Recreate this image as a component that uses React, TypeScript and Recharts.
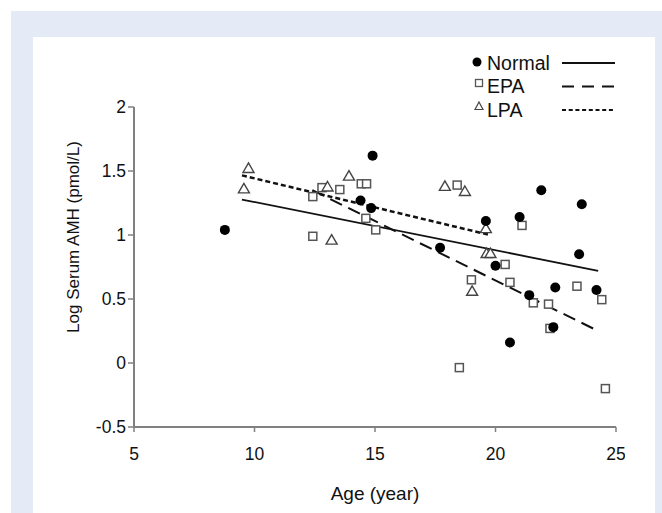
import { ScatterChart, Scatter, XAxis, YAxis } from 'recharts'

const normalPts = [
  { x: 8.77, y: 1.04 }, { x: 14.9, y: 1.62 }, { x: 14.4, y: 1.27 }, { x: 14.84, y: 1.21 },
  { x: 21.9, y: 1.35 }, { x: 23.58, y: 1.24 }, { x: 19.6, y: 1.11 }, { x: 21.0, y: 1.14 },
  { x: 17.7, y: 0.9 }, { x: 20.0, y: 0.76 }, { x: 23.47, y: 0.85 }, { x: 21.4, y: 0.53 },
  { x: 22.48, y: 0.59 }, { x: 24.19, y: 0.57 }, { x: 22.4, y: 0.28 }, { x: 20.6, y: 0.16 },
]

const epaPts = [
  { x: 12.42, y: 1.3 }, { x: 12.8, y: 1.37 }, { x: 13.54, y: 1.355 }, { x: 14.43, y: 1.4 },
  { x: 14.65, y: 1.4 }, { x: 14.62, y: 1.13 }, { x: 15.03, y: 1.04 }, { x: 12.42, y: 0.99 },
  { x: 18.41, y: 1.39 }, { x: 21.1, y: 1.075 }, { x: 20.4, y: 0.77 }, { x: 19.0, y: 0.65 },
  { x: 20.6, y: 0.63 }, { x: 21.57, y: 0.47 }, { x: 22.2, y: 0.46 }, { x: 23.38, y: 0.6 },
  { x: 24.41, y: 0.495 }, { x: 22.26, y: 0.27 }, { x: 18.5, y: -0.036 }, { x: 24.56, y: -0.2 },
]

const lpaPts = [
  { x: 9.75, y: 1.52 }, { x: 9.56, y: 1.36 }, { x: 13.03, y: 1.375 }, { x: 13.92, y: 1.46 },
  { x: 13.2, y: 0.96 }, { x: 17.9, y: 1.38 }, { x: 18.73, y: 1.34 }, { x: 19.6, y: 1.05 },
  { x: 19.63, y: 0.855 }, { x: 19.79, y: 0.855 }, { x: 19.03, y: 0.56 },
]

// regression line end points
const normalFit = [{ x: 9.48, y: 1.277 }, { x: 24.26, y: 0.72 }]
const epaFit = [{ x: 12.4, y: 1.35 }, { x: 24.26, y: 0.25 }]
const lpaFit = [{ x: 9.48, y: 1.466 }, { x: 19.76, y: 1.0 }]

const xTicks = [5, 10, 15, 20, 25]
const yTicks = [-0.5, 0, 0.5, 1, 1.5, 2]

const font = '"Liberation Sans", Arial, sans-serif'
const axisGrey = '#808080'

const Dot = (p: any) => <circle cx={p.cx} cy={p.cy} r={5} fill="#000" />
const Square = (p: any) => (
  <rect x={p.cx - 4} y={p.cy - 4} width={8} height={8} fill="#fff" stroke="#555" strokeWidth={1.5} />
)
const Triangle = (p: any) => (
  <path d={`M${p.cx},${p.cy - 5.5} L${p.cx + 5.5},${p.cy + 4} L${p.cx - 5.5},${p.cy + 4} Z`}
    fill="#fff" stroke="#444" strokeWidth={1.4} />
)
const NoShape = () => <g />

const legendRows = [
  { name: 'Normal', dash: undefined, width: 2 },
  { name: 'EPA', dash: '12 8', width: 2 },
  { name: 'LPA', dash: '4 2.7', width: 2.2 },
]

const LegendBox = () => (
  <svg width={170} height={75} style={{ fontFamily: font, display: 'block' }}>
    {legendRows.map((r, i) => {
      const y = 13 + i * 23.5
      return (
        <g key={r.name}>
          {i === 0 && <circle cx={17} cy={y - 1} r={4.5} fill="#000" />}
          {i === 1 && <rect x={15.5} y={y - 7} width={7} height={7} fill="#fff" stroke="#555" strokeWidth={1.3} />}
          {i === 2 && <path d={`M19,${y - 8} L23,${y - 0.5} L15,${y - 0.5} Z`} fill="#fff" stroke="#444" strokeWidth={1.2} />}
          <text x={27} y={y} dy="0.35em" fontSize={19.5} fill="#111">{r.name}</text>
          <line x1={102} x2={155} y1={y} y2={y} stroke="#111" strokeWidth={r.width} strokeDasharray={r.dash} />
        </g>
      )
    })}
  </svg>
)

export default function App() {
  return (
    <div style={{ position: 'absolute', left: 0, top: 0, width: 662, height: 513, background: '#fff', overflow: 'hidden' }}>
      <div style={{ position: 'absolute', left: 11, top: 11, width: 651, height: 502, background: '#e4ebf6' }} />
      <div style={{ position: 'absolute', left: 33, top: 37, width: 622, height: 476, background: '#fff' }} />
      <div style={{ position: 'absolute', left: 0, top: 0 }}>
        <ScatterChart width={662} height={513} margin={{ top: 107, right: 46, bottom: 11, left: 74 }}>
          <XAxis type="number" dataKey="x" domain={[5, 25]} ticks={xTicks} allowDataOverflow
            stroke={axisGrey} axisLine={{ stroke: axisGrey, strokeWidth: 2 }} tickLine={{ stroke: axisGrey, strokeWidth: 1.5 }}
            tickSize={5} tickMargin={16} height={75}
            tick={{ fill: '#111', fontSize: 17.5, fontFamily: font }}
            label={{ value: 'Age (year)', position: 'insideBottom', offset: 2, fill: '#111', fontSize: 19, fontFamily: font }} />
          <YAxis type="number" dataKey="y" domain={[-0.5, 2]} ticks={yTicks} allowDataOverflow
            stroke={axisGrey} axisLine={{ stroke: axisGrey, strokeWidth: 2 }} tickLine={{ stroke: axisGrey, strokeWidth: 1.5 }}
            tickSize={6} tickMargin={2} width={60}
            tick={{ fill: '#111', fontSize: 17.5, fontFamily: font }}
            label={{
              content: () => (
                <text x={73} y={237} transform="rotate(-90 73 237)" textAnchor="middle" dominantBaseline="central"
                  fontSize={17} fontFamily={font} fill="#111">Log Serum AMH (pmol/L)</text>
              ),
            }} />
          <Scatter name="NormalFit" data={normalFit} line={{ stroke: '#111', strokeWidth: 1.8 }} shape={NoShape} legendType="none" isAnimationActive={false} />
          <Scatter name="EPAFit" data={epaFit} line={{ stroke: '#111', strokeWidth: 2, strokeDasharray: '13 7' }} shape={NoShape} legendType="none" isAnimationActive={false} />
          <Scatter name="LPAFit" data={lpaFit} line={{ stroke: '#111', strokeWidth: 2.5, strokeDasharray: '5 3' }} shape={NoShape} legendType="none" isAnimationActive={false} />
          <Scatter name="EPA" data={epaPts} shape={Square} isAnimationActive={false} />
          <Scatter name="LPA" data={lpaPts} shape={Triangle} isAnimationActive={false} />
          <Scatter name="Normal" data={normalPts} shape={Dot} isAnimationActive={false} />
        </ScatterChart>
      </div>
      <div style={{ position: 'absolute', left: 625, top: 440, width: 30, height: 30, background: '#fff' }} />
      <div style={{ position: 'absolute', left: 460, top: 50 }}>
        <LegendBox />
      </div>
    </div>
  )
}
